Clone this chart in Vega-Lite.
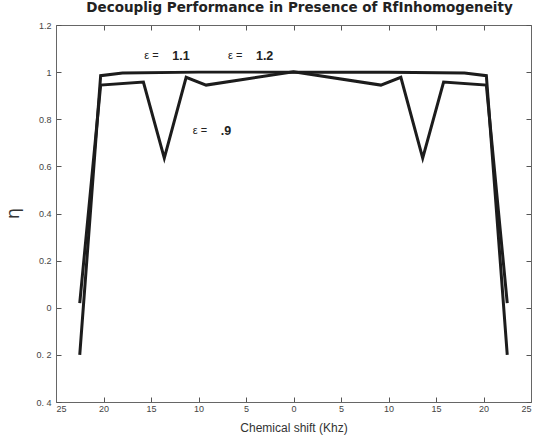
{
  "$schema": "https://vega.github.io/schema/vega-lite/v6.json",
  "width": 475,
  "height": 377,
  "autosize": {"type": "none"},
  "padding": {"left": 56, "top": 25, "right": 6, "bottom": 37},
  "background": "white",
  "title": {
    "text": "Decouplig Performance in Presence of RfInhomogeneity",
    "font": "DejaVu Sans",
    "fontWeight": "bold",
    "fontSize": 13.5,
    "color": "#222",
    "offset": 7,
    "frame": "group",
    "anchor": "middle",
    "dx": 6
  },
  "config": {
    "view": {"stroke": null},
    "axis": {
      "grid": false,
      "labelFont": "Liberation Sans",
      "labelFontSize": 9,
      "labelColor": "#444",
      "tickSize": -5,
      "tickColor": "#555",
      "domainColor": "#666",
      "titleFont": "Liberation Sans",
      "titleFontWeight": "normal",
      "titleColor": "#333"
    }
  },
  "datasets": {
    "curves": [
      {"shift": -22.5, "eta": -0.2, "curve": "A"},
      {"shift": -20.3, "eta": 0.985, "curve": "A"},
      {"shift": -18, "eta": 0.996, "curve": "A"},
      {"shift": -10, "eta": 1.0, "curve": "A"},
      {"shift": 0, "eta": 1.0, "curve": "A"},
      {"shift": 10, "eta": 1.0, "curve": "A"},
      {"shift": 18, "eta": 0.996, "curve": "A"},
      {"shift": 20.3, "eta": 0.985, "curve": "A"},
      {"shift": 22.5, "eta": -0.2, "curve": "A"},
      {"shift": -22.5, "eta": 0.02, "curve": "B"},
      {"shift": -20.3, "eta": 0.945, "curve": "B"},
      {"shift": -15.8, "eta": 0.958, "curve": "B"},
      {"shift": -13.6, "eta": 0.635, "curve": "B"},
      {"shift": -11.3, "eta": 0.978, "curve": "B"},
      {"shift": -9.2, "eta": 0.945, "curve": "B"},
      {"shift": 0, "eta": 1.002, "curve": "B"},
      {"shift": 9.2, "eta": 0.945, "curve": "B"},
      {"shift": 11.3, "eta": 0.978, "curve": "B"},
      {"shift": 13.6, "eta": 0.635, "curve": "B"},
      {"shift": 15.8, "eta": 0.958, "curve": "B"},
      {"shift": 20.3, "eta": 0.945, "curve": "B"},
      {"shift": 22.5, "eta": 0.02, "curve": "B"}
    ],
    "labels": [
      {"shift": -15.7, "eta": 1.07, "sym": "ε  =", "num": "1.1"},
      {"shift": -6.9, "eta": 1.07, "sym": "ε  =", "num": "1.2"},
      {"shift": -10.6, "eta": 0.75, "sym": "ε  =", "num": ".9"}
    ]
  },
  "layer": [
    {
      "data": {"name": "curves"},
      "mark": {"type": "line", "color": "#1c1c1c", "strokeWidth": 3, "strokeJoin": "miter"},
      "encoding": {
        "x": {
          "field": "shift",
          "type": "quantitative",
          "scale": {"domain": [-25, 25], "nice": false, "zero": false},
          "axis": {
            "values": [-25, -20, -15, -10, -5, 0, 5, 10, 15, 20, 25],
            "labelExpr": "format(abs(datum.value), 'd')",
            "labelPadding": 7,
            "title": "Chemical shift (Khz)",
            "titleFontSize": 12,
            "titleY": 20
          }
        },
        "y": {
          "field": "eta",
          "type": "quantitative",
          "scale": {"domain": [-0.4, 1.2], "nice": false, "zero": false},
          "axis": {
            "values": [-0.4, -0.2, 0, 0.2, 0.4, 0.6, 0.8, 1, 1.2],
            "labelExpr": "datum.value < 0 ? '0. ' + format(-datum.value * 10, 'd') : format(datum.value, '~g')",
            "labelPadding": 10,
            "title": "η",
            "titleFont": "DejaVu Sans",
            "titleFontSize": 18,
            "titleX": -34,
            "titleY": 188
          }
        },
        "detail": {"field": "curve", "type": "nominal"}
      }
    },
    {
      "data": {"name": "curves"},
      "mark": {"type": "line", "opacity": 0},
      "encoding": {
        "x": {
          "field": "shift",
          "type": "quantitative",
          "axis": {
            "orient": "top",
            "values": [-25, -20, -15, -10, -5, 0, 5, 10, 15, 20, 25],
            "labels": false,
            "title": null
          }
        },
        "y": {
          "field": "eta",
          "type": "quantitative",
          "axis": {
            "orient": "right",
            "values": [-0.4, -0.2, 0, 0.2, 0.4, 0.6, 0.8, 1, 1.2],
            "labels": false,
            "title": null
          }
        },
        "detail": {"field": "curve", "type": "nominal"}
      }
    },
    {
      "data": {"name": "labels"},
      "mark": {"type": "text", "align": "left", "baseline": "middle", "font": "Liberation Sans", "fontSize": 11, "color": "#222"},
      "encoding": {
        "x": {"field": "shift", "type": "quantitative", "axis": null},
        "y": {"field": "eta", "type": "quantitative", "axis": null},
        "text": {"field": "sym"}
      }
    },
    {
      "data": {"name": "labels"},
      "mark": {"type": "text", "align": "left", "baseline": "middle", "dx": 28, "font": "Liberation Sans", "fontSize": 12.5, "fontWeight": "bold", "color": "#222"},
      "encoding": {
        "x": {"field": "shift", "type": "quantitative", "axis": null},
        "y": {"field": "eta", "type": "quantitative", "axis": null},
        "text": {"field": "num"}
      }
    }
  ],
  "resolve": {"axis": {"x": "independent", "y": "independent"}}
}
